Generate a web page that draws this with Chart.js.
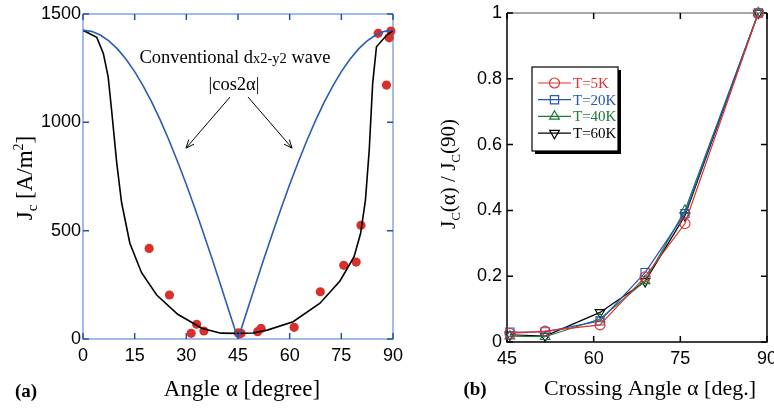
<!DOCTYPE html>
<html>
<head>
<meta charset="utf-8">
<script src="https://cdn.jsdelivr.net/npm/chart.js@4.4.0/dist/chart.umd.min.js"></script>
<style>
  body { margin: 0; background: #fff; }
  #wrapA { position: absolute; left: 0; top: 0; width: 420px; height: 408px; }
  #wrapB { position: absolute; left: 420px; top: 0; width: 354px; height: 408px; }
</style>
</head>
<body>
<div id="wrapA"><canvas id="chartA" width="420" height="408"></canvas></div>
<div id="wrapB"><canvas id="chartB" width="354" height="408"></canvas></div>
<script>
// ---- panel (a): Jc vs angle ----
const dwaveAngle = [0, 2.5, 5, 7.5, 10, 12.5, 15, 17.5, 20, 22.5, 25, 27.5, 30, 32.5, 35, 37.5, 40, 42.5, 45,
                    47.5, 50, 52.5, 55, 57.5, 60, 62.5, 65, 67.5, 70, 72.5, 75, 77.5, 80, 82.5, 85, 87.5, 90];
const dwaveJc = [1425, 1420, 1403, 1376, 1339, 1291, 1234, 1167, 1092, 1008, 916, 817, 713, 602, 487, 369, 247, 124, 0,
                 124, 247, 369, 487, 602, 713, 817, 916, 1008, 1092, 1167, 1234, 1291, 1339, 1376, 1403, 1420, 1425];

const fitAngle = [0, 4, 5.9, 7.3, 8.3, 9.8, 11.2, 13.6, 17, 21.4, 27.5, 34.5, 40, 44.6, 49.4, 53.5, 61, 68.8, 74.6, 78.7, 80.6, 82, 83.1, 84.1, 85.2, 88.2, 90];
const fitJc = [1425, 1392, 1318, 1211, 1057, 812, 630, 442, 306, 203, 114, 50, 27, 26, 28, 41, 80, 165, 268, 380, 488, 641, 872, 1180, 1349, 1403, 1423];

const measAngle = [19.2, 25.1, 31.4, 33, 35.1, 45.1, 45.5, 45.9, 50.7, 51.7, 61.3, 68.9, 75.7, 79.3, 80.7, 85.7, 88.1, 88.9, 89.4];
const measJc = [418, 203, 26, 68, 37, 28, 24, 26, 34, 49, 54, 218, 340, 355, 525, 1411, 1172, 1390, 1421];

const aTicksX = [0, 15, 30, 45, 60, 75, 90];
const aTicksY = [0, 500, 1000, 1500];

// ---- panel (b): normalised Jc vs crossing angle ----
const bAngle = [45.5, 51.6, 61.1, 68.9, 75.8, 88.5];
const t5K = [0.026, 0.033, 0.052, 0.198, 0.36, 1.0];
const t20K = [0.03, 0.031, 0.064, 0.211, 0.39, 1.0];
const t40K = [0.018, 0.016, 0.07, 0.186, 0.40, 1.0];
const t60K = [0.022, 0.018, 0.09, 0.184, 0.384, 1.0];
const bLabels = ['T=5K', 'T=20K', 'T=40K', 'T=60K'];

const serif = '"Liberation Serif", "Times New Roman", serif';
const sans = '"Liberation Sans", Arial, sans-serif';

const pts = (xs, ys) => xs.map((x, i) => ({ x: x, y: ys[i] }));

// draw text made of pieces with own size and vertical shift
function richText(ctx, parts, cx, cy, rot) {
    ctx.save();
    ctx.translate(cx, cy);
    ctx.rotate(rot || 0);
    ctx.textBaseline = 'alphabetic';
    let total = 0;
    parts.forEach(p => {
        ctx.font = (p.w || '') + ' ' + p.s + 'px ' + serif;
        p.width = ctx.measureText(p.t).width;
        total += p.width;
    });
    let x = -total / 2;
    parts.forEach(p => {
        ctx.font = (p.w || '') + ' ' + p.s + 'px ' + serif;
        ctx.fillStyle = p.c || '#000';
        ctx.fillText(p.t, x, (p.dy || 0));
        x += p.width;
    });
    ctx.restore();
}

function arrow(ctx, x1, y1, x2, y2) {
    const a = Math.atan2(y2 - y1, x2 - x1);
    const h = 9;
    ctx.beginPath();
    ctx.moveTo(x1, y1);
    ctx.lineTo(x2, y2);
    ctx.moveTo(x2 - h * Math.cos(a - 0.4), y2 - h * Math.sin(a - 0.4));
    ctx.lineTo(x2, y2);
    ctx.lineTo(x2 - h * Math.cos(a + 0.4), y2 - h * Math.sin(a + 0.4));
    ctx.stroke();
}

// frame with inward ticks on all four sides
function drawFrame(chart, frameCol, tickCol, topCol) {
    const { ctx, chartArea: ca, scales } = chart;
    ctx.save();
    ctx.lineWidth = 1.5;
    ctx.strokeStyle = frameCol;
    ctx.beginPath();
    ctx.moveTo(ca.left, ca.top); ctx.lineTo(ca.left, ca.bottom); ctx.lineTo(ca.right, ca.bottom); ctx.lineTo(ca.right, ca.top);
    ctx.stroke();
    ctx.strokeStyle = topCol || frameCol;
    ctx.beginPath();
    ctx.moveTo(ca.left, ca.top); ctx.lineTo(ca.right, ca.top);
    ctx.stroke();
    ctx.strokeStyle = tickCol;
    ctx.lineWidth = 1.5;
    const len = 6;
    ctx.beginPath();
    scales.x.ticks.forEach(t => {
        const px = scales.x.getPixelForValue(t.value);
        ctx.moveTo(px, ca.bottom); ctx.lineTo(px, ca.bottom - len);
        ctx.moveTo(px, ca.top); ctx.lineTo(px, ca.top + len);
    });
    scales.y.ticks.forEach(t => {
        const py = scales.y.getPixelForValue(t.value);
        ctx.moveTo(ca.left, py); ctx.lineTo(ca.left + len, py);
        ctx.moveTo(ca.right, py); ctx.lineTo(ca.right - len, py);
    });
    ctx.stroke();
    ctx.restore();
}

function fixBox(size, horizontal) {
    return function (scale) {
        if (horizontal) scale.height = size; else scale.width = size;
        scale.paddingLeft = 0; scale.paddingRight = 0; scale.paddingTop = 0; scale.paddingBottom = 0;
    };
}

const decorA = {
    id: 'decorA',
    beforeDatasetsDraw(chart) {
        drawFrame(chart, '#86a6dc', '#2553a8');
    },
    afterDraw(chart) {
        const ctx = chart.ctx;
        const x = chart.scales.x, y = chart.scales.y;
        richText(ctx, [{ t: 'J', s: 23 }, { t: 'c', s: 15, dy: 5 }, { t: ' [A/m', s: 23 }, { t: '2', s: 14, dy: -9 }, { t: ']', s: 23 }],
            32, 178, -Math.PI / 2);
        richText(ctx, [{ t: 'Angle α [degree]', s: 23 }], 242, 396);
        richText(ctx, [{ t: '(a)', s: 19, w: 'bold' }], 26, 397);
        richText(ctx, [{ t: 'Conventional d', s: 18.5 }, { t: 'x2-y2', s: 14.5 }, { t: ' wave', s: 18.5 }], 235, 63);
        richText(ctx, [{ t: '|cos2α|', s: 18.5 }], 234, 90);
        ctx.save();
        ctx.strokeStyle = '#000';
        ctx.lineWidth = 1;
        arrow(ctx, x.getPixelForValue(42.7), y.getPixelForValue(1117), x.getPixelForValue(29.9), y.getPixelForValue(881));
        arrow(ctx, x.getPixelForValue(47.9), y.getPixelForValue(1117), x.getPixelForValue(60.7), y.getPixelForValue(881));
        ctx.restore();
    }
};

new Chart(document.getElementById('chartA'), {
    type: 'scatter',
    data: {
        datasets: [
            {
                label: 'dx2-y2 wave',
                data: pts(dwaveAngle, dwaveJc),
                showLine: true,
                borderColor: '#2a5cb3',
                borderWidth: 1.6,
                pointRadius: 0,
                tension: 0
            },
            {
                label: 'fit',
                data: pts(fitAngle, fitJc),
                showLine: true,
                borderColor: '#000',
                borderWidth: 1.6,
                pointRadius: 0,
                tension: 0
            },
            {
                label: 'measured',
                data: pts(measAngle, measJc),
                pointRadius: 4.6,
                pointBackgroundColor: '#d8302b',
                pointBorderColor: '#d8302b',
                pointBorderWidth: 0,
                clip: false
            }
        ]
    },
    options: {
        responsive: false,
        animation: false,
        events: [],
        layout: { padding: { left: 0, right: 27, top: 14, bottom: 0 } },
        plugins: { legend: { display: false }, tooltip: { enabled: false } },
        scales: {
            x: {
                type: 'linear', min: 0, max: 90,
                afterBuildTicks: s => { s.ticks = aTicksX.map(v => ({ value: v })); },
                afterFit: fixBox(69, true),
                grid: { display: false, drawTicks: false },
                border: { display: false },
                ticks: { color: '#000', font: { family: sans, size: 18 }, padding: 6, callback: v => String(v) }
            },
            y: {
                type: 'linear', min: 0, max: 1500,
                afterBuildTicks: s => { s.ticks = aTicksY.map(v => ({ value: v })); },
                afterFit: fixBox(83, false),
                grid: { display: false, drawTicks: false },
                border: { display: false },
                ticks: { color: '#000', font: { family: sans, size: 18 }, padding: 2, callback: v => String(v) }
            }
        }
    },
    plugins: [decorA]
});

// ---- panel (b) ----
const bSeries = [t5K, t20K, t40K, t60K];
const bColors = ['#e0312b', '#2257b8', '#1e7a3c', '#000'];
const bStyles = ['circle', 'rect', 'triangle', 'triangle'];
const bRot = [0, 0, 0, 180];
const bRadius = [5, 5.8, 5.6, 5.6];

function marker(ctx, style, rot, r, x, y) {
    ctx.beginPath();
    if (style === 'circle') {
        ctx.arc(x, y, r, 0, Math.PI * 2);
    } else if (style === 'rect') {
        const h = r * Math.SQRT1_2;
        ctx.rect(x - h, y - h, 2 * h, 2 * h);
    } else {
        const s = rot ? -1 : 1;
        ctx.moveTo(x, y - s * r);
        ctx.lineTo(x + r * 0.866, y + s * r * 0.5);
        ctx.lineTo(x - r * 0.866, y + s * r * 0.5);
        ctx.closePath();
    }
    ctx.stroke();
}

const decorB = {
    id: 'decorB',
    beforeDatasetsDraw(chart) {
        drawFrame(chart, '#000', '#000', '#8a8a8a');
    },
    afterDraw(chart) {
        const ctx = chart.ctx;
        richText(ctx, [{ t: 'J', s: 21 }, { t: 'C', s: 13, dy: 5 }, { t: '(α) / J', s: 21 }, { t: 'C', s: 13, dy: 5 }, { t: '(90)', s: 21 }],
            35, 174, -Math.PI / 2);
        richText(ctx, [{ t: 'Crossing Angle α [deg.]', s: 22 }], 230, 395);
        richText(ctx, [{ t: '(b)', s: 19, w: 'bold' }], 55, 395);

        // legend box with drop shadow
        const bx = 112, by = 67, bw = 86, bh = 84;
        ctx.save();
        ctx.fillStyle = '#000';
        ctx.fillRect(bx + 3, by + 3, bw, bh);
        ctx.fillStyle = '#fff';
        ctx.fillRect(bx, by, bw, bh);
        ctx.strokeStyle = '#000';
        ctx.lineWidth = 1.2;
        ctx.strokeRect(bx, by, bw, bh);
        chart.data.datasets.forEach((ds, i) => {
            const ly = 83 + i * 16.7;
            ctx.strokeStyle = ds.borderColor;
            ctx.lineWidth = 1.2;
            ctx.beginPath();
            ctx.moveTo(118, ly); ctx.lineTo(151, ly);
            ctx.stroke();
            marker(ctx, bStyles[i], bRot[i], bRadius[i], 134.5, ly);
            ctx.fillStyle = ds.borderColor;
            ctx.font = '15px ' + serif;
            ctx.textBaseline = 'middle';
            ctx.fillText(ds.label, 153, ly + 1);
        });
        ctx.restore();
    }
};

new Chart(document.getElementById('chartB'), {
    type: 'scatter',
    data: {
        datasets: bSeries.map((s, i) => ({
            label: bLabels[i],
            data: pts(bAngle, s),
            showLine: true,
            borderColor: bColors[i],
            borderWidth: 1.2,
            tension: 0,
            pointStyle: bStyles[i],
            rotation: bRot[i],
            pointRadius: bRadius[i],
            pointBorderColor: bColors[i],
            pointBackgroundColor: 'rgba(255,255,255,0)',
            pointBorderWidth: 1.1,
            clip: false
        }))
    },
    options: {
        responsive: false,
        animation: false,
        events: [],
        layout: { padding: { left: 0, right: 7, top: 13, bottom: 0 } },
        plugins: { legend: { display: false }, tooltip: { enabled: false } },
        scales: {
            x: {
                type: 'linear', min: 45, max: 90,
                ticks: { stepSize: 15, color: '#000', font: { family: sans, size: 18 }, padding: 6 },
                afterFit: fixBox(66, true),
                grid: { display: false, drawTicks: false },
                border: { display: false }
            },
            y: {
                type: 'linear', min: 0, max: 1,
                ticks: { stepSize: 0.2, color: '#000', font: { family: sans, size: 18 }, padding: 5,
                         callback: v => String(Math.round(v * 10) / 10) },
                afterFit: fixBox(87, false),
                grid: { display: false, drawTicks: false },
                border: { display: false }
            }
        }
    },
    plugins: [decorB]
});
</script>
</body>
</html>
